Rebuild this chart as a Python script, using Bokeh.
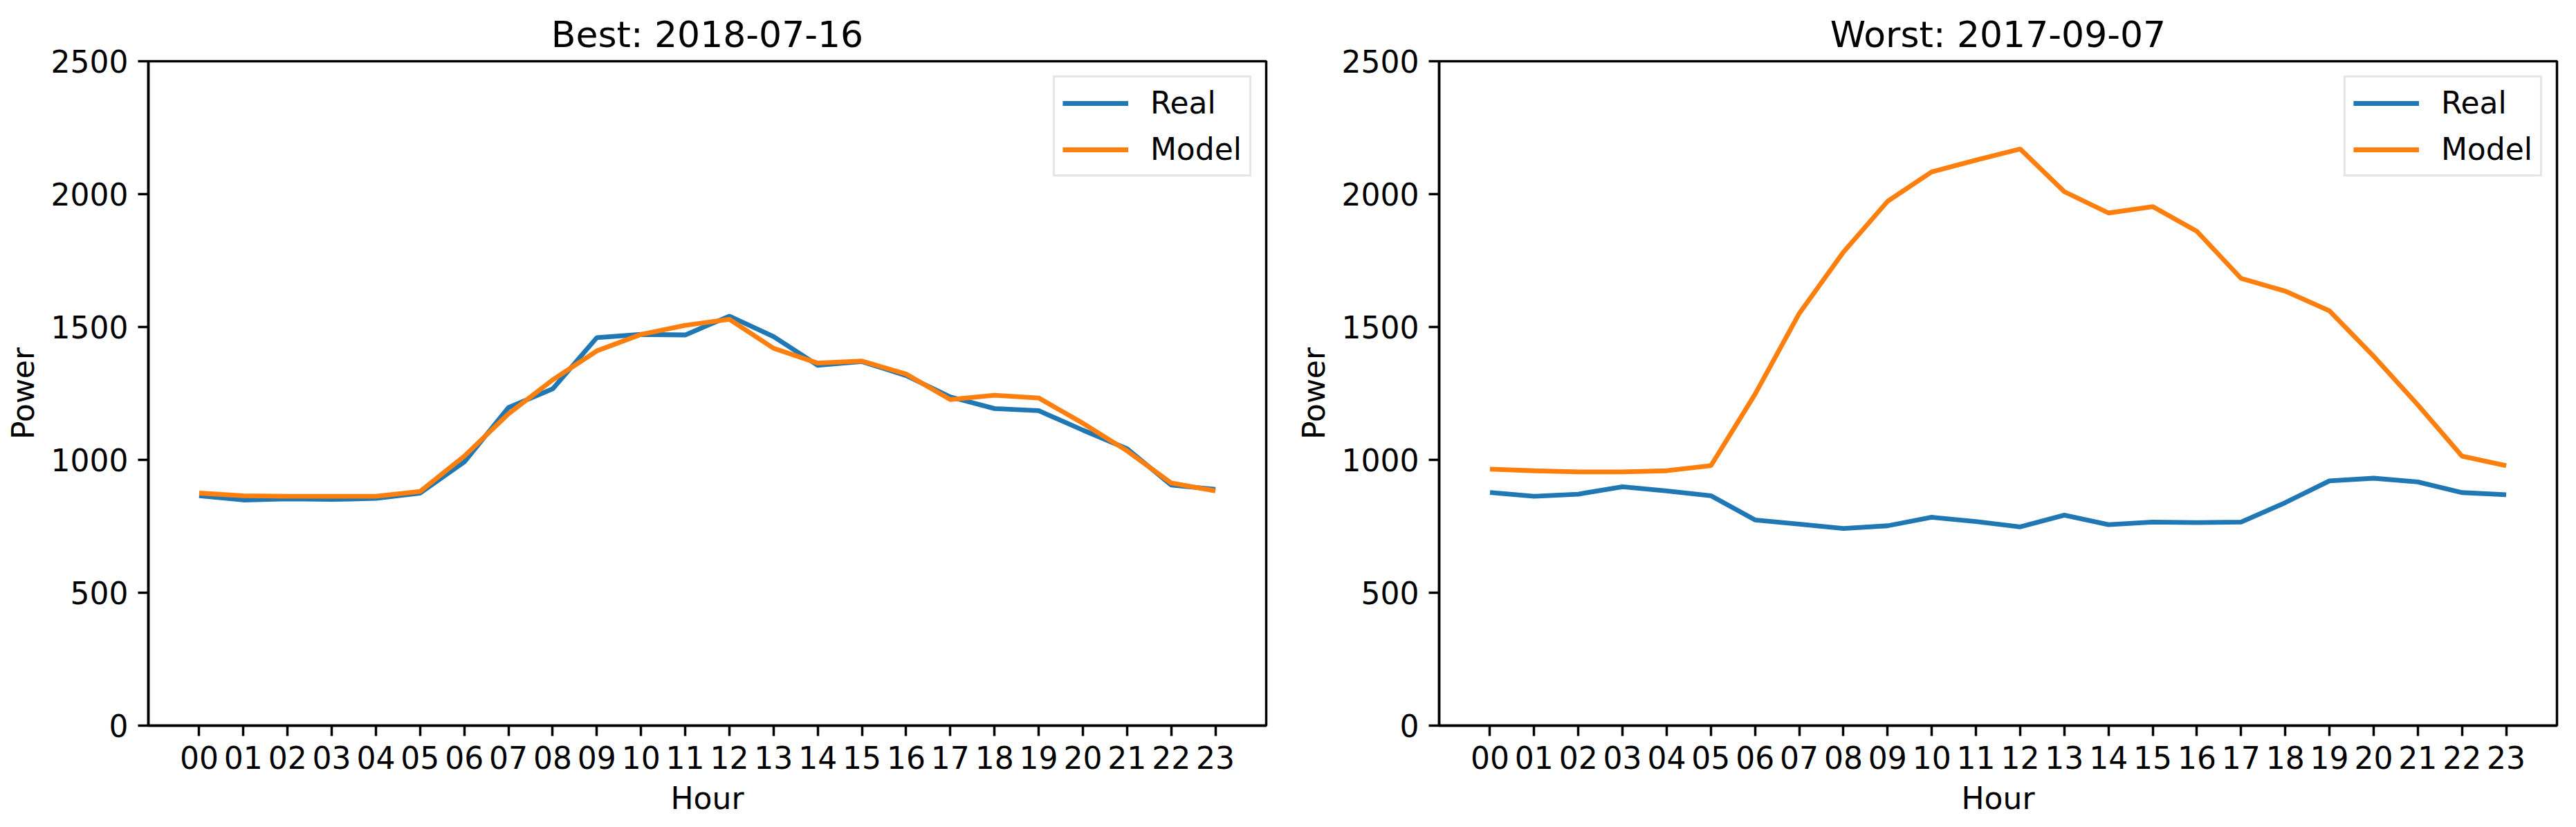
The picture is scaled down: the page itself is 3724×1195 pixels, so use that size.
from bokeh.plotting import figure
from bokeh.layouts import row
from bokeh.models import Range1d, FixedTicker
from bokeh.embed import file_html
from bokeh.resources import INLINE

hours = ["00", "01", "02", "03", "04", "05", "06", "07", "08", "09", "10", "11",
         "12", "13", "14", "15", "16", "17", "18", "19", "20", "21", "22", "23"]

best_title = "Best: 2018-07-16"
best_real = [865, 849, 853, 851, 855, 875, 992, 1197, 1267, 1460, 1472, 1470,
             1541, 1464, 1356, 1370, 1317, 1237, 1193, 1185, 1112, 1042, 905, 889]
best_model = [875, 865, 863, 863, 863, 881, 1014, 1173, 1301, 1410, 1472, 1506,
              1529, 1420, 1364, 1372, 1323, 1227, 1243, 1233, 1138, 1034, 913, 883]

worst_title = "Worst: 2017-09-07"
worst_real = [877, 863, 871, 899, 883, 865, 774, 758, 742, 752, 784, 768,
              748, 792, 756, 766, 764, 766, 839, 921, 931, 917, 877, 869]
worst_model = [965, 959, 955, 955, 959, 978, 1247, 1551, 1782, 1973, 2084, 2128,
               2170, 2009, 1929, 1953, 1860, 1683, 1635, 1561, 1390, 1207, 1014, 978]

y_ticks = [0, 500, 1000, 1500, 2000, 2500]

FONT = "DejaVu Sans"
BLUE = "#1f77b4"
ORANGE = "#ff7f0e"


def make_fig(title, real, model, right_border):
    x = list(range(len(hours)))
    p = figure(width=214 + 1616 + right_border, height=1185,
               min_border_left=214, min_border_right=right_border,
               min_border_top=88, min_border_bottom=137,
               x_range=Range1d(-1.15, len(hours) - 1 + 1.15),
               y_range=Range1d(0, 2500),
               output_backend="svg", toolbar_location=None,
               title=title)
    p.line(x, real, color=BLUE, line_width=6.8, legend_label="Real")
    p.line(x, model, color=ORANGE, line_width=6.8, legend_label="Model")

    p.title.text_font = FONT
    p.title.text_font_size = "52px"
    p.title.text_font_style = "normal"
    p.title.text_color = "black"
    p.title.align = "center"
    p.title.standoff = 18

    p.xgrid.visible = False
    p.ygrid.visible = False
    p.outline_line_color = "black"
    p.outline_line_width = 3.5
    p.outline_line_alpha = 1.0

    p.xaxis.ticker = FixedTicker(ticks=x)
    p.xaxis.major_label_overrides = {i: h for i, h in enumerate(hours)}
    p.yaxis.ticker = FixedTicker(ticks=y_ticks)
    p.xaxis.axis_label = "Hour"
    p.yaxis.axis_label = "Power"
    for ax in (p.xaxis[0], p.yaxis[0]):
        ax.axis_line_width = 3.5
        ax.axis_line_color = "black"
        ax.major_tick_line_width = 3.5
        ax.major_tick_line_color = "black"
        ax.major_tick_out = 15
        ax.major_tick_in = 0
        ax.minor_tick_out = 0
        ax.minor_tick_in = 0
        ax.major_label_text_font = FONT
        ax.major_label_text_font_size = "44px"
        ax.major_label_text_color = "black"
        ax.axis_label_text_font = FONT
        ax.axis_label_text_font_size = "44px"
        ax.axis_label_text_font_style = "normal"
        ax.axis_label_text_color = "black"
    p.xaxis.major_label_standoff = 14
    p.yaxis.major_label_standoff = 14
    p.xaxis.axis_label_standoff = 14
    p.yaxis.axis_label_standoff = 12

    lg = p.legend[0]
    lg.location = "top_right"
    lg.margin = 21
    lg.padding = 11
    lg.spacing = 16
    lg.glyph_width = 95
    lg.glyph_height = 44
    lg.label_height = 44
    lg.label_standoff = 32
    lg.label_text_font = FONT
    lg.label_text_font_size = "44px"
    lg.label_text_color = "black"
    lg.border_line_color = "#cccccc"
    lg.border_line_width = 3.5
    lg.background_fill_alpha = 0.8
    return p


p1 = make_fig(best_title, best_real, best_model, 36)
p2 = make_fig(worst_title, worst_real, worst_model, 10)
layout = row(p1, p2)

open("out.html", "w").write(file_html(layout, INLINE))
